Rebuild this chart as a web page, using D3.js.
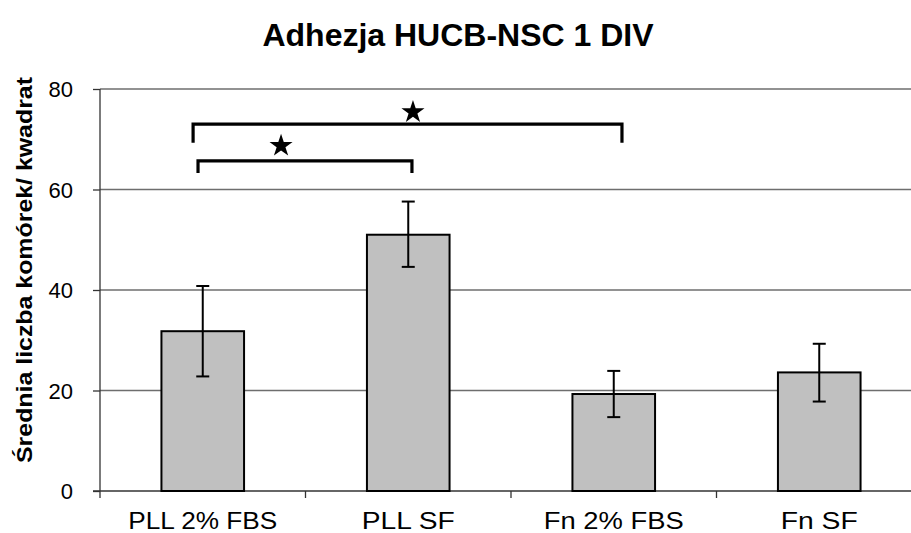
<!DOCTYPE html>
<html><head><meta charset="utf-8">
<script src="https://cdn.jsdelivr.net/npm/d3@7"></script>
<style>body{margin:0;background:#fff}svg{display:block}</style>
</head><body><svg id="c" width="911" height="533"></svg>
<script>
const categories = ["PLL 2% FBS", "PLL SF", "Fn 2% FBS", "Fn SF"];
const means = [31.8, 51.0, 19.3, 23.6];
const errLow = [22.8, 44.6, 14.7, 17.8];
const errHigh = [40.8, 57.6, 23.9, 29.3];
const yTicks = [0, 20, 40, 60, 80];
const title = "Adhezja HUCB-NSC 1 DIV";
const yTitle = "Średnia liczba komórek/ kwadrat";
// significance brackets: from/to category index (fractional), bar height and leg bottom in data units
const brackets = [
  {from: -0.047, to: 2.04, y: 73.0, leg: 69.3, star: 1.023, starY: 75.4},
  {from: -0.023, to: 1.018, y: 65.7, leg: 63.3, star: 0.381, starY: 68.7}
];

(function () {
const svg = d3.select("#c");
const pl = 100, pr = 922, pt = 89, pb = 491;
const x = d3.scaleBand().domain(categories).range([pl, pr]).paddingInner(0.598).paddingOuter(0.299);
const y = d3.scaleLinear().domain([0, 80]).range([pb, pt]);
const xi = d3.scaleLinear().domain([-0.5, 3.5]).range([pl, pr]);

// gridlines
svg.append("g").selectAll("line").data(yTicks.filter(d => d > 0)).join("line")
  .attr("x1", pl).attr("x2", pr).attr("y1", d => y(d)).attr("y2", d => y(d))
  .attr("stroke", "#6e6e6e").attr("stroke-width", 1.3);

// y axis
const yAxis = svg.append("g").attr("transform", `translate(${pl},0)`)
  .call(d3.axisLeft(y).tickValues(yTicks).tickSize(7).tickPadding(20).tickSizeOuter(0));
yAxis.select(".domain").remove();
yAxis.selectAll(".tick line").attr("stroke", "#333").attr("stroke-width", 1.3);
yAxis.selectAll(".tick text").attr("font-family", "Liberation Sans, Arial, sans-serif")
  .attr("font-size", 22).attr("fill", "#000").attr("dy", "0.35em");
svg.append("line").attr("x1", pl).attr("x2", pl).attr("y1", pt).attr("y2", pb + 7)
  .attr("stroke", "#333").attr("stroke-width", 1.3);

// x axis line and boundary ticks
svg.append("line").attr("x1", pl - 7).attr("x2", pr).attr("y1", pb).attr("y2", pb)
  .attr("stroke", "#333").attr("stroke-width", 1.3);
svg.append("g").selectAll("line").data(categories.slice(1)).join("line")
  .attr("x1", d => x(d) + x.bandwidth() / 2 - x.step() / 2)
  .attr("x2", d => x(d) + x.bandwidth() / 2 - x.step() / 2)
  .attr("y1", pb).attr("y2", pb + 7)
  .attr("stroke", "#333").attr("stroke-width", 1.3);

// bars
svg.append("g").selectAll("rect").data(categories).join("rect")
  .attr("x", d => x(d)).attr("width", x.bandwidth())
  .attr("y", (d, i) => y(means[i])).attr("height", (d, i) => y(0) - y(means[i]))
  .attr("fill", "#c0c0c0").attr("stroke", "#000").attr("stroke-width", 2);

// error bars
const eg = svg.append("g").attr("stroke", "#000").attr("stroke-width", 2);
categories.forEach((c, i) => {
  const cx = x(c) + x.bandwidth() / 2;
  eg.append("line").attr("x1", cx).attr("x2", cx).attr("y1", y(errLow[i])).attr("y2", y(errHigh[i]));
  eg.append("line").attr("x1", cx - 6.5).attr("x2", cx + 6.5).attr("y1", y(errLow[i])).attr("y2", y(errLow[i]));
  eg.append("line").attr("x1", cx - 6.5).attr("x2", cx + 6.5).attr("y1", y(errHigh[i])).attr("y2", y(errHigh[i]));
});

// x labels
svg.append("g").selectAll("text").data(categories).join("text")
  .attr("x", d => x(d) + x.bandwidth() / 2).attr("y", 529)
  .attr("text-anchor", "middle").attr("font-family", "Liberation Sans, Arial, sans-serif")
  .attr("font-size", 23).attr("fill", "#000")
  .attr("textLength", (d, i) => [149, 93, 140, 77][i]).attr("lengthAdjust", "spacingAndGlyphs")
  .text(d => d);

// brackets
const bg = svg.append("g");
brackets.forEach(b => {
  bg.append("path")
    .attr("d", `M${xi(b.from)},${y(b.leg)}V${y(b.y)}H${xi(b.to)}V${y(b.leg)}`)
    .attr("fill", "none").attr("stroke", "#000").attr("stroke-width", 3.2);
  bg.append("path").attr("d", d3.symbol(d3.symbolStar, 165)())
    .attr("transform", `translate(${xi(b.star)},${y(b.starY)})`).attr("fill", "#000");
});

// title
svg.append("text").attr("x", 458).attr("y", 46).attr("text-anchor", "middle")
  .attr("font-family", "Liberation Sans, Arial, sans-serif").attr("font-weight", "bold")
  .attr("font-size", 32).attr("fill", "#000").text(title);

// y title
svg.append("text").attr("transform", "translate(32,270) rotate(-90)").attr("text-anchor", "middle")
  .attr("font-family", "Liberation Sans, Arial, sans-serif").attr("font-weight", "bold")
  .attr("font-size", 22).attr("fill", "#000")
  .attr("textLength", 386).attr("lengthAdjust", "spacingAndGlyphs").text(yTitle);
})();
</script></body></html>
